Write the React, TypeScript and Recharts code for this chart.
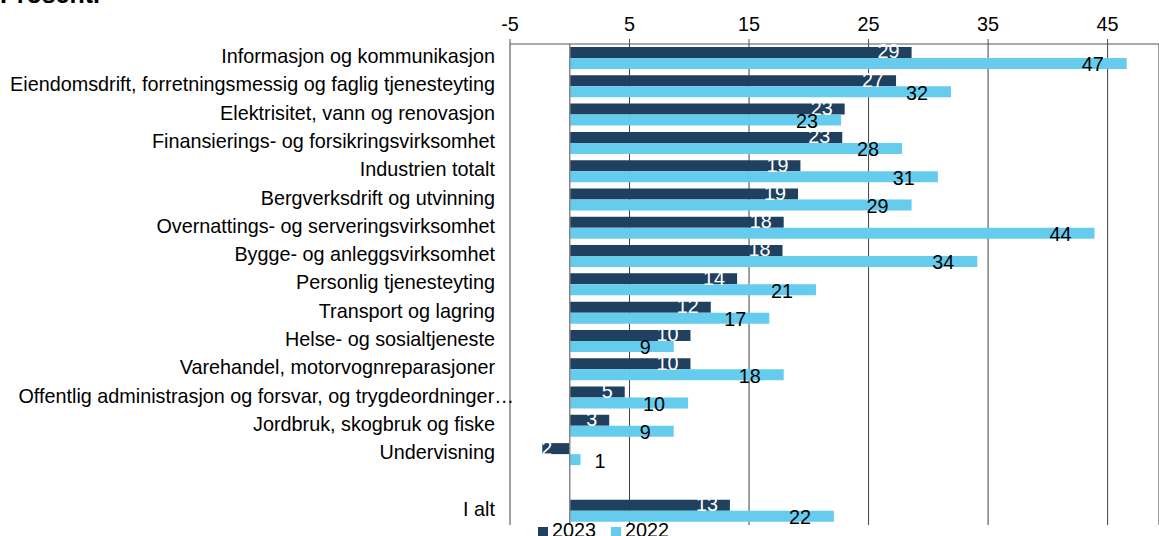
import { BarChart, Bar, XAxis, YAxis, CartesianGrid, ReferenceLine, LabelList } from 'recharts';

const categories = [
  'Informasjon og kommunikasjon',
  'Eiendomsdrift, forretningsmessig og faglig tjenesteyting',
  'Elektrisitet, vann og renovasjon',
  'Finansierings- og forsikringsvirksomhet',
  'Industrien totalt',
  'Bergverksdrift og utvinning',
  'Overnattings- og serveringsvirksomhet',
  'Bygge- og anleggsvirksomhet',
  'Personlig tjenesteyting',
  'Transport og lagring',
  'Helse- og sosialtjeneste',
  'Varehandel, motorvognreparasjoner',
  'Offentlig administrasjon og forsvar, og trygdeordninger…',
  'Jordbruk, skogbruk og fiske',
  'Undervisning',
  '',
  'I alt',
];
const values2023 = [28.6, 27.3, 23.0, 22.8, 19.3, 19.1, 17.9, 17.8, 14.0, 11.8, 10.1, 10.1, 4.6, 3.3, -2.3, null, 13.4];
const values2022 = [46.6, 31.9, 22.7, 27.8, 30.8, 28.6, 43.9, 34.1, 20.6, 16.7, 8.7, 17.9, 9.9, 8.7, 0.9, null, 22.1];
const xTicks = [-5, 5, 15, 25, 35, 45];

const DARK = '#20405f';
const LIGHT = '#66ccee';
const FONT = '"Liberation Sans", Arial, sans-serif';
const FS = 19.8;

const data = categories.map((name, i) => ({ name, y2023: values2023[i], y2022: values2022[i] }));

function CategoryTick({ x, y, payload }: any) {
  const long = String(payload.value).endsWith('…');
  return (
    <text x={x - 7 + (long ? 19 : 0)} y={y - 2} dy="0.35em" textAnchor="end" fontSize={FS} fill="#000" fontFamily={FONT}>
      {payload.value}
    </text>
  );
}

function DarkLabel({ x, y, width, height, value }: any) {
  if (value == null) return null;
  const neg = width < 0;
  const tx = neg ? x + width + 10 : x + width - 12;
  return (
    <text x={tx} y={y + height / 2 - 1} dy="0.35em" textAnchor="end" fontSize={FS} fill="#fff" fontFamily={FONT}>
      {Math.round(value)}
    </text>
  );
}

function LightLabel({ x, y, width, height, value }: any) {
  if (value == null) return null;
  const small = width < 20;
  const tx = small ? x + width + 14 : x + width - 23;
  return (
    <text x={tx} y={y + height / 2 + 1} dy="0.35em" textAnchor={small ? 'start' : 'end'} fontSize={FS} fill="#000" fontFamily={FONT}>
      {Math.round(value)}
    </text>
  );
}

const legendText = { position: 'absolute' as const, top: 519, fontSize: FS, lineHeight: '22px', color: '#000' };
const legendBox = { position: 'absolute' as const, top: 527, width: 10, height: 9 };

export default function App() {
  return (
    <div style={{ position: 'absolute', left: 0, top: 0, width: 1159, height: 536, overflow: 'hidden', fontFamily: FONT, background: '#fff' }}>
      <div style={{ position: 'absolute', left: 0, top: -18, fontSize: 25, lineHeight: '25px', fontWeight: 'bold', color: '#000' }}>Prosent.</div>
      <BarChart
        width={1159}
        height={536}
        data={data}
        layout="vertical"
        margin={{ top: 0, right: 0, bottom: 11, left: 0 }}
        barCategoryGap={3}
        barGap={0}
      >
        <CartesianGrid horizontal={false} stroke="#404040" />
        <XAxis
          type="number"
          orientation="top"
          domain={[-5, 49.3]}
          ticks={xTicks}
          height={44}
          tickSize={5}
          tickMargin={8}
          axisLine={{ stroke: '#555' }}
          tickLine={{ stroke: '#555' }}
          tick={{ fontSize: FS, fill: '#000', fontFamily: FONT }}
          allowDataOverflow
        />
        <YAxis type="category" dataKey="name" width={510} axisLine={false} tickLine={false} interval={0} tick={<CategoryTick />} />
        <ReferenceLine x={0} stroke="#888" strokeWidth={1.5} />
        <Bar dataKey="y2023" fill={DARK} isAnimationActive={false}>
          <LabelList dataKey="y2023" content={<DarkLabel />} />
        </Bar>
        <Bar dataKey="y2022" fill={LIGHT} isAnimationActive={false}>
          <LabelList dataKey="y2022" content={<LightLabel />} />
        </Bar>
      </BarChart>
      <span style={{ ...legendBox, left: 538, background: DARK }} />
      <span style={{ ...legendText, left: 552 }}>2023</span>
      <span style={{ ...legendBox, left: 611, background: LIGHT }} />
      <span style={{ ...legendText, left: 625 }}>2022</span>
    </div>
  );
}
